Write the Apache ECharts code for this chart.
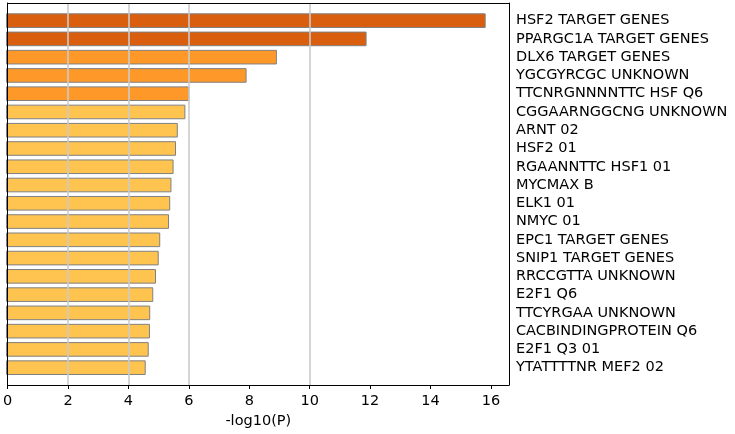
<!DOCTYPE html>
<html>
<head>
<meta charset="utf-8">
<script src="https://cdn.jsdelivr.net/npm/echarts@6/dist/echarts.min.js"></script>
<style>
  * { margin: 0; padding: 0; }
  body { background: #fff; }
</style>
</head>
<body>
<div id="main" style="width: 735px;height: 434px;"></div>
<script>
// terms, top to bottom
var terms = [
  'HSF2 TARGET GENES', 'PPARGC1A TARGET GENES', 'DLX6 TARGET GENES', 'YGCGYRCGC UNKNOWN',
  'TTCNRGNNNNTTC HSF Q6', 'CGGAARNGGCNG UNKNOWN', 'ARNT 02', 'HSF2 01',
  'RGAANNTTC HSF1 01', 'MYCMAX B', 'ELK1 01', 'NMYC 01',
  'EPC1 TARGET GENES', 'SNIP1 TARGET GENES', 'RRCCGTTA UNKNOWN', 'E2F1 Q6',
  'TTCYRGAA UNKNOWN', 'CACBINDINGPROTEIN Q6', 'E2F1 Q3 01', 'YTATTTTNR MEF2 02'
]
// -log10(P)
var logP = [
  15.83, 11.90, 8.94, 7.94, 6.05, 5.92, 5.67, 5.61,
  5.53, 5.46, 5.42, 5.38, 5.09, 5.04, 4.95, 4.86,
  4.76, 4.75, 4.71, 4.61
]
// colour group of each bar (0 dark, 1 mid, 2 light)
var colorGroup = [0, 0, 1, 1, 1, 2, 2, 2, 2, 2, 2, 2, 2, 2, 2, 2, 2, 2, 2, 2]
var groupColors = ['#d95f0e', '#fe9929', '#fec44f']
var xTicks = [0, 2, 4, 6, 8, 10, 12, 14, 16]
var refLines = [2, 4, 6, 10]
var xMax = 16.6

var chart = echarts.init(document.getElementById('main'))
var font = 'DejaVu Sans'
var fs = 14.5

var barData = logP.map(function (v, i) {
  return { value: v, itemStyle: { color: groupColors[colorGroup[i]] } }
})

// plain axis line used for the frame
var spine = { show: true, onZero: false, lineStyle: { color: '#000', width: 1 } }

chart.setOption({
  animation: false,
  textStyle: { fontFamily: font },
  grid: [
    // frame
    { left: 6, top: 3, right: 226, bottom: 48 },
    // bars
    { left: 6, top: 11.5, right: 226, bottom: 57.2 }
  ],
  xAxis: [
    {
      gridIndex: 0, type: 'value', min: 0, max: xMax, z: 10,
      name: '-log10(P)', nameLocation: 'middle', nameGap: 29,
      nameTextStyle: { color: '#000', fontSize: fs, fontFamily: font },
      axisLine: spine,
      axisTick: { show: true, length: 4, customValues: xTicks, lineStyle: { color: '#000' } },
      axisLabel: { margin: 9, color: '#000', fontSize: fs, fontFamily: font, customValues: xTicks },
      splitLine: { show: false }
    },
    {
      gridIndex: 1, type: 'value', min: 0, max: xMax, show: false
    },
    {
      gridIndex: 0, type: 'value', min: 0, max: xMax, position: 'top', z: 10,
      axisLine: spine,
      axisTick: { show: false }, axisLabel: { show: false }, splitLine: { show: false }
    }
  ],
  yAxis: [
    {
      gridIndex: 0, type: 'value', min: 0, max: 1, z: 10,
      axisLine: spine,
      axisTick: { show: false }, axisLabel: { show: false }, splitLine: { show: false }
    },
    {
      gridIndex: 1, type: 'category', data: terms, inverse: true, position: 'right',
      axisLine: { show: false }, axisTick: { show: false },
      axisLabel: { interval: 0, margin: 7, align: 'left', color: '#000', fontSize: fs, fontFamily: font },
      splitLine: { show: false }
    },
    {
      gridIndex: 0, type: 'value', min: 0, max: 1, position: 'right', z: 10,
      axisLine: spine,
      axisTick: { show: false }, axisLabel: { show: false }, splitLine: { show: false }
    }
  ],
  series: [
    {
      // vertical reference lines
      type: 'line', xAxisIndex: 0, yAxisIndex: 0, data: [], showSymbol: false, z: 1,
      markLine: {
        silent: true, symbol: 'none', label: { show: false },
        lineStyle: { color: '#cbcbcb', width: 1.6, type: 'solid' },
        data: refLines.map(function (v) { return { xAxis: v } })
      }
    },
    {
      name: '-log10(P)', type: 'bar', xAxisIndex: 1, yAxisIndex: 1, z: 2,
      barWidth: '80%',
      itemStyle: { borderColor: '#808080', borderWidth: 1 },
      data: barData
    }
  ]
})
</script>
</body>
</html>
